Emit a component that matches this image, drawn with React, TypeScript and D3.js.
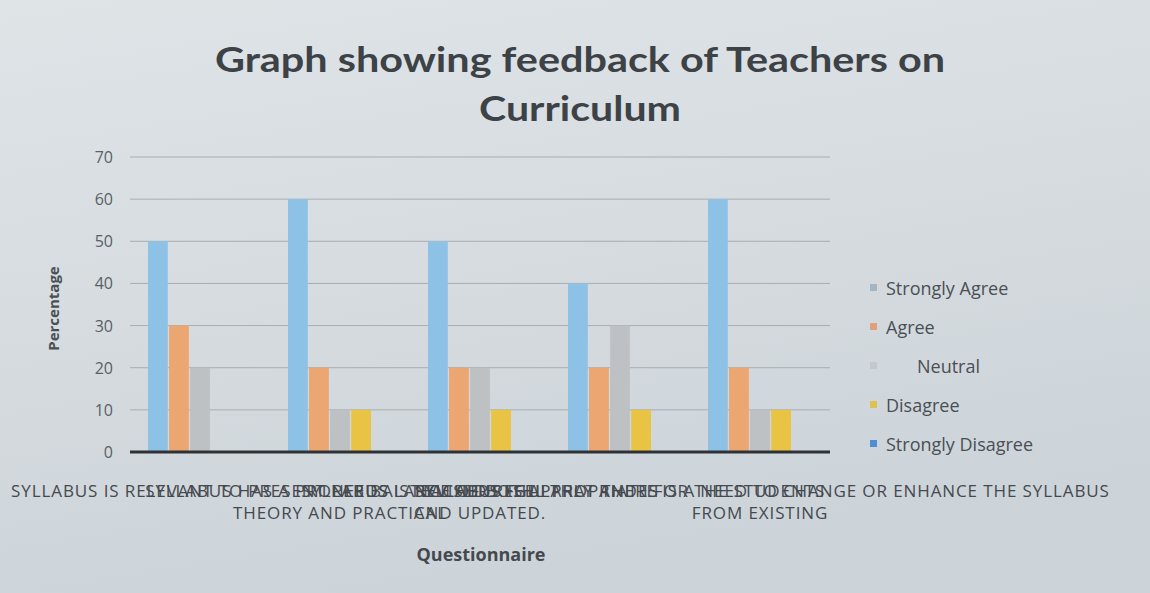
import React from 'react';
import * as d3 from 'd3';

const questions = [
    ['SYLLABUS IS RELEVANT TO PRESENT NEEDS'],
    ['SYLLABUS HAS A PROPER BALANCE OF BOTH', 'THEORY AND PRACTICAL'],
    ['SYLLABUS IS REVISED REGULARLY AND IS', 'AND UPDATED.'],
    ['SYLLABUS IS APPROPRIATE FOR THE STUDENTS'],
    ['TEACHERS FEEL THAT THERE IS A NEED TO CHANGE OR ENHANCE THE SYLLABUS', 'FROM EXISTING'],
];
const responses = ['Strongly Agree', 'Agree', 'Neutral', 'Disagree', 'Strongly Disagree'];
const stronglyAgree = [50, 60, 50, 40, 60];
const agree = [30, 20, 20, 20, 20];
const neutral = [20, 10, 20, 30, 10];
const disagree = [0, 10, 10, 10, 10];
const stronglyDisagree = [0, 0, 0, 0, 0];
const yTicks = [0, 10, 20, 30, 40, 50, 60, 70];

const barColors = ['#8dc2e6', '#eca672', '#bec1c4', '#e9c444', '#4f8fd2'];
const legendColors = ['#a3b4c2', '#e0a07a', '#c3c8cc', '#dcc24e', '#4f8fd2'];

const series = [stronglyAgree, agree, neutral, disagree, stronglyDisagree];

const W = 1150;
const H = 593;
const font = "'Open Sans', 'Liberation Sans', sans-serif";

const App: React.FC = () => {
    const left = 130, right = 830, top = 157, bottom = 452;

    const x0 = d3.scaleBand<number>()
        .domain(questions.map((_, i) => i))
        .range([left, right]);
    const x1 = d3.scaleBand<number>()
        .domain(responses.map((_, i) => i))
        .range([18, x0.bandwidth() - 18])
        .paddingInner(0.06);
    const y = d3.scaleLinear().domain([0, 70]).range([bottom, top]);

    return (
        <svg width={W} height={H} style={{ position: 'fixed', left: 0, top: 0 }} fontFamily={font}>
            <defs>
                <linearGradient id="bg" x1="0" y1="0" x2="0.3" y2="1">
                    <stop offset="0" stopColor="#dfe4e7" />
                    <stop offset="1" stopColor="#cdd4d9" />
                </linearGradient>
            </defs>
            <rect width={W} height={H} fill="url(#bg)" />

            {/* title */}
            <text x={580} y={72} textAnchor="middle" fontSize={35} fontWeight="bold" fill="#3d4247"
                fontFamily="Lato, sans-serif" textLength={730} lengthAdjust="spacingAndGlyphs">Graph showing feedback of Teachers on</text>
            <text x={580} y={121} textAnchor="middle" fontSize={35} fontWeight="bold" fill="#3d4247"
                fontFamily="Lato, sans-serif" textLength={202} lengthAdjust="spacingAndGlyphs">Curriculum</text>

            {/* gridlines */}
            {yTicks.slice(1).map(t => (
                <line key={t} x1={left} x2={right} y1={y(t)} y2={y(t)} stroke="#a7adb2" strokeWidth={1} />
            ))}

            {/* y tick labels */}
            {yTicks.map(t => (
                <text key={t} x={113} y={y(t) + 6} textAnchor="end" fontSize={16} fill="#5a5f64">{t}</text>
            ))}
            <text transform={`translate(59,${(top + bottom) / 2 + 4}) rotate(-90)`} textAnchor="middle"
                fontSize={15} fontWeight="bold" fill="#4a4f54">Percentage</text>

            {/* bars */}
            {questions.map((_, qi) => (
                <g key={qi} transform={`translate(${x0(qi)},0)`}>
                    {series.map((vals, si) => (
                        <rect key={si} x={x1(si)} width={x1.bandwidth()} y={y(vals[qi])}
                            height={bottom - y(vals[qi])} fill={barColors[si]} />
                    ))}
                </g>
            ))}

            {/* baseline */}
            <line x1={left} x2={right} y1={bottom} y2={bottom} stroke="#2e3236" strokeWidth={3} />

            {/* category labels (overlapping, as in the original) */}
            {questions.map((lines, qi) => (
                <g key={qi}>
                    {lines.map((ln, li) => (
                        <text key={li} x={(x0(qi) ?? 0) + x0.bandwidth() / 2} y={497 + li * 22}
                            textAnchor="middle" fontSize={17} letterSpacing={0.9} fill="#45494e">{ln}</text>
                    ))}
                </g>
            ))}

            <text x={481} y={561} textAnchor="middle" fontSize={18} fontWeight="bold" fill="#45494e">Questionnaire</text>

            {/* legend */}
            {responses.map((r, i) => (
                <g key={r} transform={`translate(870,${289 + i * 39})`}>
                    <rect x={0} y={-5} width={7} height={7} fill={legendColors[i]} />
                    <text x={r === 'Neutral' ? 47 : 16} y={6} fontSize={18} fill="#4a4f54">{r}</text>
                </g>
            ))}
        </svg>
    );
};

export default App;
